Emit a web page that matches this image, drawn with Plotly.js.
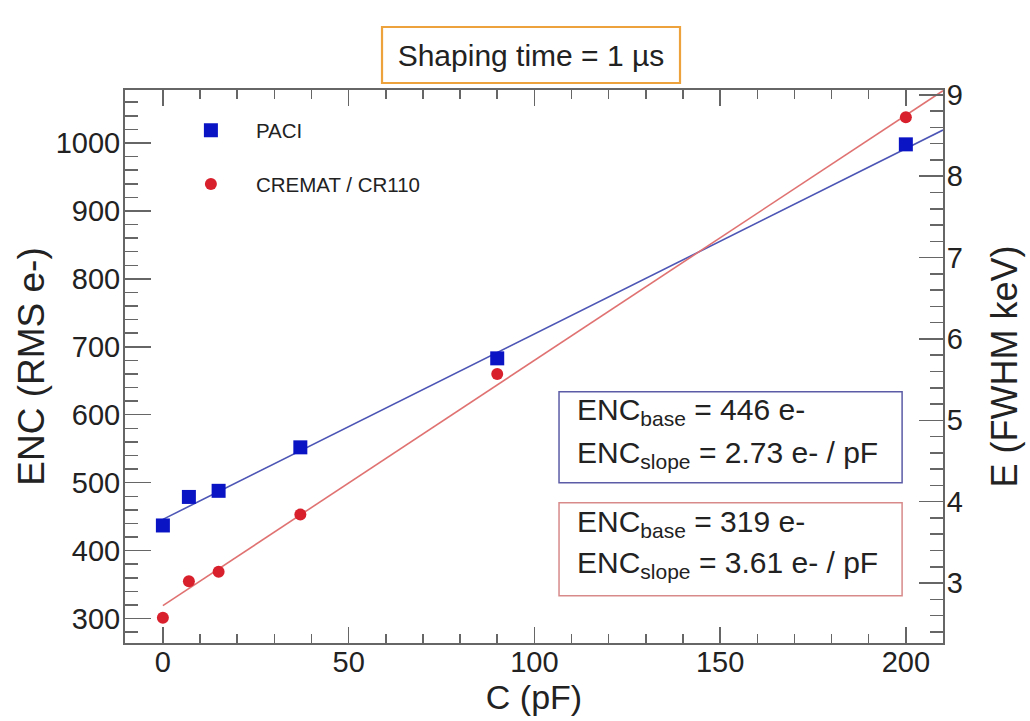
<!DOCTYPE html>
<html>
<head>
<meta charset="utf-8">
<script src="https://cdn.plot.ly/plotly-3.0.1.min.js"></script>
<style>html,body{margin:0;padding:0;background:#fff;}#chart{width:1030px;height:721px;}</style>
</head>
<body>
<div id="chart"></div>
<script>
// Data
const capacitance = [0, 7, 15, 37, 90, 200];        // C (pF)
const paciENC     = [437, 479, 488, 552, 683, 998]; // ENC (RMS e-), PACI
const crematENC   = [301, 355, 369, 453, 660, 1038];// ENC (RMS e-), CREMAT / CR110
const fitC        = [0, 210];                       // fit line extent (pF)
const paciFit     = [446, 1019];                    // PACI linear fit
const crematFit   = [319, 1077];                    // CREMAT linear fit
const seriesNames = ['PACI', 'CREMAT / CR110'];
const fitLabels = [
  ['ENC<sub>base</sub> = 446 e-', 'ENC<sub>slope</sub> = 2.73 e- / pF'],
  ['ENC<sub>base</sub> = 319 e-', 'ENC<sub>slope</sub> = 3.61 e- / pF']
];

const BLUE = '#0a14c4', RED = '#d8202c';
const BLUE_LINE = '#4d56b5', RED_LINE = '#e07272';
const FRAME = '#666666';
const TXT = '#222222';
const FONT = 'Liberation Sans, Arial, Helvetica, sans-serif';

const traces = [
  {x: fitC, y: paciFit, mode: 'lines', line: {color: BLUE_LINE, width: 1.6}, showlegend: false, hoverinfo: 'skip'},
  {x: fitC, y: crematFit, mode: 'lines', line: {color: RED_LINE, width: 1.6}, showlegend: false, hoverinfo: 'skip'},
  {x: capacitance, y: paciENC, name: seriesNames[0], mode: 'markers', legendgroup: 'a',
   marker: {symbol: 'square', size: 14, color: BLUE}},
  {x: capacitance, y: crematENC, name: seriesNames[1], mode: 'markers', legendgroup: 'b',
   marker: {symbol: 'circle', size: 12, color: RED}},
  {x: [], y: [], yaxis: 'y2', showlegend: false, hoverinfo: 'skip'}
];

const annots = [];
const boxes = [
  {x0: 0.5306, x1: 0.950, y0: 0.2897, y1: 0.4542, color: '#5b5ba6', ty: [0.418, 0.340]},
  {x0: 0.5306, x1: 0.950, y0: 0.0855, y1: 0.2536, color: '#d88a8a', ty: [0.216, 0.142]}
];
const shapes = [];
boxes.forEach((b, i) => {
  shapes.push({type: 'rect', xref: 'paper', yref: 'paper', x0: b.x0, x1: b.x1, y0: b.y0, y1: b.y1,
               line: {color: b.color, width: 1.5}, fillcolor: 'rgba(255,255,255,0)'});
  fitLabels[i].forEach((t, j) => {
    annots.push({xref: 'paper', yref: 'paper', x: 0.550, y: b.ty[j], xanchor: 'left', yanchor: 'middle',
                 text: t, showarrow: false, font: {family: FONT, size: 30, color: TXT}});
  });
});
// title frame
shapes.push({type: 'rect', xref: 'paper', yref: 'paper', x0: 0.3142, x1: 0.6785, y0: 1.0127, y1: 1.1139,
             line: {color: '#eda23c', width: 2.2}, fillcolor: 'rgba(255,255,255,0)'});

const layout = {
  width: 1030, height: 721,
  margin: {l: 125, r: 87, t: 90, b: 78, pad: 0},
  paper_bgcolor: '#fff', plot_bgcolor: '#fff',
  title: {text: 'Shaping time = 1 µs', x: 0.5155, xanchor: 'center', y: 0.923, yanchor: 'middle',
          font: {family: FONT, size: 30, color: TXT}},
  showlegend: true,
  legend: {x: 0.05, y: 0.963, xanchor: 'left', yanchor: 'top', bgcolor: 'rgba(255,255,255,0)',
           font: {family: FONT, size: 20.5, color: TXT}, itemwidth: 80, traceorder: 'grouped', tracegroupgap: 24},
  xaxis: {
    range: [-10.2, 210], tick0: 0, dtick: 50, ticks: 'inside', ticklen: 16, tickwidth: 1.5, tickcolor: FRAME,
    minor: {dtick: 10, ticks: 'inside', ticklen: 9, tickwidth: 1.5, tickcolor: FRAME},
    showline: true, linecolor: FRAME, linewidth: 2, mirror: 'ticks', showgrid: false, zeroline: false,
    tickfont: {family: FONT, size: 29, color: TXT}, ticklabelstandoff: -8,
    title: {text: 'C (pF)', font: {family: FONT, size: 34, color: TXT}, standoff: 6}
  },
  yaxis: {
    range: [264, 1078], tick0: 0, dtick: 100, ticks: 'inside', ticklen: 26, tickwidth: 1.5, tickcolor: FRAME,
    minor: {dtick: 20, ticks: 'inside', ticklen: 13, tickwidth: 1.5, tickcolor: FRAME},
    showline: true, linecolor: FRAME, linewidth: 2, showgrid: false, zeroline: false,
    tickfont: {family: FONT, size: 29, color: TXT}, ticklabelstandoff: -3,
    title: {text: 'ENC (RMS e-)', font: {family: FONT, size: 37, color: TXT}, standoff: 0}
  },
  yaxis2: {
    overlaying: 'y', side: 'right', range: [2.263, 9.06], tick0: 0, dtick: 1,
    ticks: 'inside', ticklen: 24, tickwidth: 1.5, tickcolor: FRAME,
    minor: {dtick: 0.2, ticks: 'inside', ticklen: 13, tickwidth: 1.5, tickcolor: FRAME},
    showline: true, linecolor: FRAME, linewidth: 2, showgrid: false, zeroline: false,
    tickfont: {family: FONT, size: 29, color: TXT}, ticklabelstandoff: -4,
    title: {text: 'E (FWHM keV)', font: {family: FONT, size: 36, color: TXT}, standoff: 30}
  },
  shapes: shapes,
  annotations: annots
};

Plotly.newPlot('chart', traces, layout, {displayModeBar: false, staticPlot: true});
</script>
</body>
</html>
